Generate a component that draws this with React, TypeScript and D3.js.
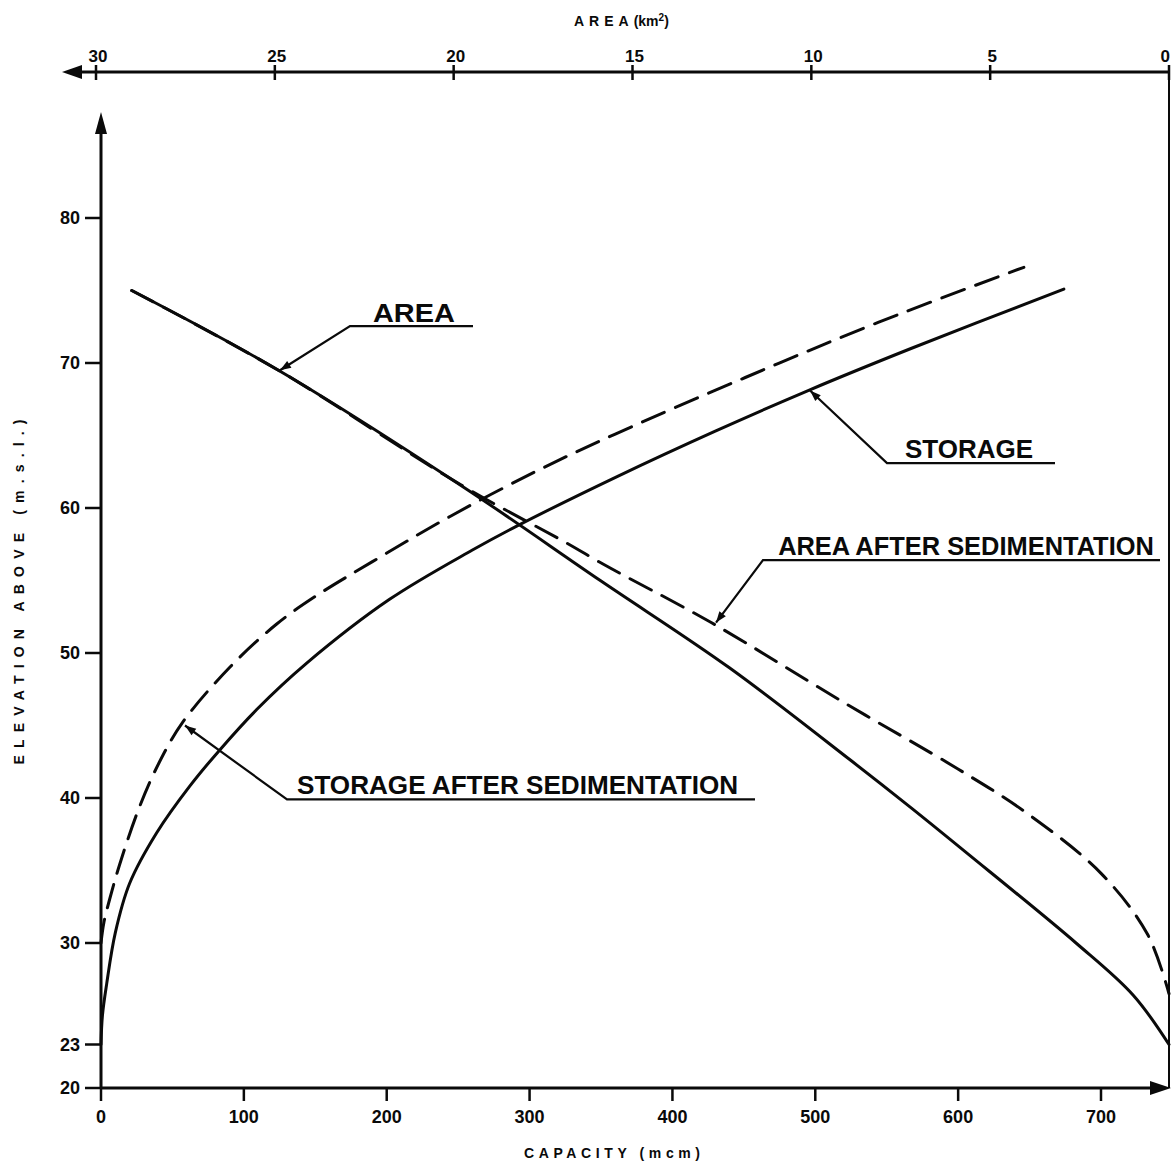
import { useRef, useEffect } from "react";
import * as d3 from "d3";

// storage-elevation curves: [capacity (mcm), elevation (m)]
const storage: [number, number][] = [
  [0, 23], [1, 25], [4, 27.2], [10, 30.7], [20, 34.1], [39, 37.6], [62, 40.8],
  [83, 43.3], [109, 46.1], [144, 49.3], [202, 53.7], [260, 57.1], [290, 58.7],
  [362, 62.2], [430, 65.3], [495, 68.1], [567, 71.0], [674, 75.1],
];
const storageSed: [number, number][] = [
  [0, 30], [2, 31.4], [6, 33.0], [13, 35.4], [27, 39.4], [41, 42.5], [57, 45.2],
  [90, 49.0], [123, 52.0], [150, 53.9], [190, 56.3], [244, 59.4], [306, 62.6],
  [360, 65.1], [451, 69.0], [544, 72.8], [646, 76.6],
];

// area-elevation curves: [area (km2), elevation (m)]
const area: [number, number][] = [
  [29.0, 75.0], [24.9, 69.5], [19.7, 61.4], [15.9, 55.0], [12.3, 49.0],
  [8.9, 42.6], [7.2, 39.3], [5.7, 36.3], [2.6, 30.0], [1.0, 26.4], [0, 23.0],
];
const areaSed: [number, number][] = [
  [29.0, 75.0], [24.9, 69.5], [19.8, 61.6], [16.85, 57.6], [15.8, 56.1],
  [12.8, 52.1], [9.1, 46.6], [5.9, 42.0], [4.0, 39.0], [1.9, 34.8],
  [0.6, 30.6], [0, 26.5],
];

const capTicks = [0, 100, 200, 300, 400, 500, 600, 700];
const areaTicks = [30, 25, 20, 15, 10, 5, 0];
const elevTicks = [20, 23, 30, 40, 50, 60, 70, 80];

const W = 1171;
const H = 1168;
const INK = "#0a0a0a";
const FONT = "'Liberation Sans', Arial, sans-serif";

export default function App() {
  const svgRef = useRef<SVGSVGElement>(null);

  useEffect(() => {
    if (!svgRef.current) return;
    const svg = d3.select(svgRef.current);
    svg.selectAll("*").remove();

    const x = d3.scaleLinear().domain([0, 700]).range([101, 1101]);
    const xa = d3.scaleLinear().domain([30, 0]).range([96, 1169]);
    const y = d3.scaleLinear().domain([20, 80]).range([1088, 218]);

    svg.append("rect").attr("width", W).attr("height", H).attr("fill", "#fff");

    const tri = (pts: [number, number][]) =>
      svg.append("path").attr("d", "M" + pts.map((p) => p.join(",")).join("L") + "Z").attr("fill", INK);

    // left axis
    const x0 = x(0);
    svg.append("line").attr("x1", x0).attr("x2", x0).attr("y1", y(20)).attr("y2", 128)
      .attr("stroke", INK).attr("stroke-width", 3);
    tri([[x0, 112], [x0 - 6, 134], [x0 + 6, 134]]);
    elevTicks.forEach((t) => {
      svg.append("line").attr("x1", x0 - 16).attr("x2", x0).attr("y1", y(t)).attr("y2", y(t))
        .attr("stroke", INK).attr("stroke-width", 2.5);
      svg.append("text").attr("x", x0 - 21).attr("y", y(t) + 6).attr("text-anchor", "end")
        .attr("font-family", FONT).attr("font-weight", "bold").attr("font-size", 18)
        .attr("fill", INK).text(t);
    });

    // bottom axis
    const yb = y(20);
    svg.append("line").attr("x1", x0).attr("x2", 1155).attr("y1", yb).attr("y2", yb)
      .attr("stroke", INK).attr("stroke-width", 3);
    tri([[1171, yb], [1150, yb - 7], [1150, yb + 7]]);
    capTicks.forEach((t) => {
      svg.append("line").attr("x1", x(t)).attr("x2", x(t)).attr("y1", yb).attr("y2", yb + 13)
        .attr("stroke", INK).attr("stroke-width", 2.5);
      svg.append("text").attr("x", x(t)).attr("y", 1123).attr("text-anchor", "middle")
        .attr("font-family", FONT).attr("font-weight", "bold").attr("font-size", 18)
        .attr("fill", INK).text(t);
    });
    svg.append("text").attr("x", 524).attr("y", 1158)
      .attr("textLength", 176).attr("lengthAdjust", "spacing")
      .attr("font-family", FONT).attr("font-weight", "bold").attr("font-size", 14)
      .attr("fill", INK).text("CAPACITY (mcm)");

    // top axis (area, reversed)
    const yt = 72;
    svg.append("line").attr("x1", 78).attr("x2", xa(0)).attr("y1", yt).attr("y2", yt)
      .attr("stroke", INK).attr("stroke-width", 3);
    tri([[62, yt], [82, yt - 7], [82, yt + 7]]);
    areaTicks.forEach((t) => {
      svg.append("line").attr("x1", xa(t)).attr("x2", xa(t)).attr("y1", yt - 7).attr("y2", yt + 8)
        .attr("stroke", INK).attr("stroke-width", 2.5);
      svg.append("text")
        .attr("x", t === 0 ? W - 1 : xa(t) + 2).attr("y", 62)
        .attr("text-anchor", t === 0 ? "end" : "middle")
        .attr("font-family", FONT).attr("font-weight", "bold").attr("font-size", 17)
        .attr("fill", INK).text(t);
    });
    // area = 0 line down the right side
    svg.append("line").attr("x1", xa(0)).attr("x2", xa(0)).attr("y1", yt).attr("y2", yb)
      .attr("stroke", INK).attr("stroke-width", 2);
    const at = svg.append("text").attr("x", 574).attr("y", 26)
      .attr("font-family", FONT).attr("font-weight", "bold").attr("font-size", 14).attr("fill", INK);
    at.append("tspan").attr("letter-spacing", 5).text("AREA");
    at.append("tspan").text("(km");
    at.append("tspan").attr("font-size", 10).attr("dy", -5).text("2");
    at.append("tspan").attr("dy", 5).text(")");

    // y title
    svg.append("text").attr("transform", "translate(24,592) rotate(-90)")
      .attr("text-anchor", "middle").attr("textLength", 345).attr("lengthAdjust", "spacing")
      .attr("font-family", FONT).attr("font-weight", "bold").attr("font-size", 14)
      .attr("fill", INK).text("ELEVATION ABOVE (m.s.l.)");

    // curves
    const capLine = d3.line<[number, number]>()
      .x((d) => x(d[0])).y((d) => y(d[1])).curve(d3.curveCatmullRom.alpha(0.5));
    const areaLine = d3.line<[number, number]>()
      .x((d) => xa(d[0])).y((d) => y(d[1])).curve(d3.curveCatmullRom.alpha(0.5));

    const draw = (d: string | null, dashed: boolean) =>
      svg.append("path").attr("d", d).attr("fill", "none").attr("stroke", INK)
        .attr("stroke-width", 3).attr("stroke-linecap", "round")
        .attr("stroke-dasharray", dashed ? "24 12" : null);

    draw(areaLine(areaSed), true);
    draw(capLine(storageSed), true);
    draw(capLine(storage), false);
    draw(areaLine(area), false);

    // callouts: tip, elbow, underline end, text start, text end (cap/elev units)
    const callouts = [
      { label: "AREA", tip: [125.3, 69.5], elbow: [174.3, 72.55], end: 260.4, t0: 190.4, t1: 247.7, gap: 4 },
      { label: "STORAGE", tip: [496.3, 68.1], elbow: [550.2, 63.1], end: 667.8, t0: 562.8, t1: 652.5, gap: 5 },
      { label: "AREA AFTER SEDIMENTATION", tip: [430.5, 52.1], elbow: [463.4, 56.4], end: 741.3, t0: 474, t1: 737, gap: 5 },
      { label: "STORAGE AFTER SEDIMENTATION", tip: [58.8, 45.0], elbow: [130.2, 39.9], end: 457.8, t0: 137.2, t1: 446, gap: 5 },
    ];
    callouts.forEach((c) => {
      const tx = x(c.tip[0]);
      const ty = y(c.tip[1]);
      const ex = x(c.elbow[0]);
      const ey = y(c.elbow[1]);
      svg.append("path")
        .attr("d", `M${tx},${ty}L${ex},${ey}L${x(c.end)},${ey}`)
        .attr("fill", "none").attr("stroke", INK).attr("stroke-width", 2.2);
      const ang = Math.atan2(ey - ty, ex - tx);
      const L = 11;
      const s = 4;
      const bx = tx + Math.cos(ang) * L;
      const by = ty + Math.sin(ang) * L;
      tri([
        [tx, ty],
        [bx - Math.sin(ang) * s, by + Math.cos(ang) * s],
        [bx + Math.sin(ang) * s, by - Math.cos(ang) * s],
      ]);
      svg.append("text").attr("x", x(c.t0)).attr("y", ey - c.gap)
        .attr("textLength", x(c.t1) - x(c.t0)).attr("lengthAdjust", "spacingAndGlyphs")
        .attr("font-family", FONT).attr("font-weight", "bold").attr("font-size", 26)
        .attr("fill", INK).text(c.label);
    });
  }, []);

  return (
    <svg
      ref={svgRef}
      width={W}
      height={H}
      style={{ position: "absolute", left: 0, top: 0, display: "block" }}
    />
  );
}
